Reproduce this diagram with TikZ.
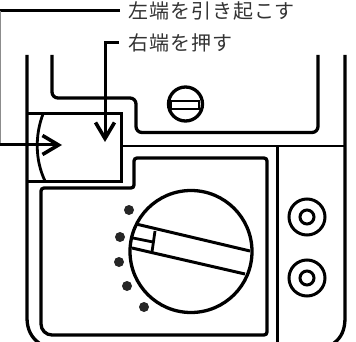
\documentclass[tikz,border=0pt]{standalone}
\usepackage{fontspec}
\usetikzlibrary{arrows.meta}
\newfontfamily\jpfont[LetterSpace=5]{Noto Sans CJK JP}
\tikzset{
  body/.style={line width=3.3pt,rounded corners=6pt},
  leader/.style={line width=3pt,-{Straight Barb[length=16pt,width=19pt,line width=3.6pt]}},
  label/.style={anchor=west,inner sep=0pt,font=\jpfont\fontsize{20}{20}\selectfont,text=black!80},
  spot/.style={circle,fill=black!85,inner sep=0pt,minimum size=10pt}
}
\begin{document}
\begin{tikzpicture}[x=1pt,y=-1pt]
  \useasboundingbox (0,0) rectangle (356,342);

  \node[label] (left)  at (128,11) {左端を引き起こす};
  \node[label] (right) at (128,43) {右端を押す};

  \begin{scope}[every node/.style={spot}]
    \node (d1) at (129,210) {};
    \node (d2) at (120,237) {};
    \node (d3) at (119,262) {};
    \node (d4) at (127,286) {};
    \node (d5) at (144,307) {};
  \end{scope}

  % case
  \draw[body,rounded corners=0pt] (27,55) -- (27,318) .. controls (27,330) and (32,338) .. (39,343);
  \draw[body,rounded corners=0pt] (345,55) -- (345,318) .. controls (345,330) and (341,338) .. (334,343);
  \draw[body] (52,55) -- (52,98) -- (136,98) -- (136,132.5) -- (318,132.5) -- (318,55);
  \draw[line width=2.6pt] (121,146) -- (345,146);
  \draw[line width=3pt] (277,146) -- (277,342);

  % lid
  \draw[line width=3pt] (27,114) -- (121,114) -- (121,181) -- (27,181);
  \draw[line width=2.8pt] (43,114) .. controls (35,135) and (35,160) .. (45,181);

  % panel
  \draw[body,rounded corners=3pt] (134,188) -- (134,158) -- (267,158) -- (267,335)
    [rounded corners=11pt] -- (41,335) [rounded corners=3pt] -- (41,188) -- cycle;

  % screw
  \draw[line width=3.3pt] (185.5,104) circle[radius=17];
  \draw[line width=2.8pt] (171,101) -- (199,101) -- (199,109) -- (171,109) -- cycle;

  % dial
  \draw[line width=3.3pt] (191,251.5) circle[radius=61];
  \draw[line width=3pt] (136,224) -- (250,251);
  \draw[line width=3pt] (132,248) -- (245,274);
  \draw[line width=2.8pt] (133,238) -- (153,242);
  \draw[line width=2.8pt] (155,231) -- (152,252);

  % jacks
  \foreach \y in {217,278} {
    \draw[line width=3pt] (307,\y) circle[radius=18];
    \draw[line width=3pt] (307,\y) circle[radius=7];
  }

  % leaders
  \coordinate (a) at (62,145);
  \coordinate (b) at (105,142);
  \draw[line width=3pt] (left.west) ++(-8,0) -- (0,11);
  \draw[black!45,line width=1pt] (0.5,11) -- (0.5,145);
  \draw[leader] (0,145) -- (a);
  \draw[leader] (right.west) ++(-9,0) -- (105,43) -- (b);
\end{tikzpicture}
\end{document}
